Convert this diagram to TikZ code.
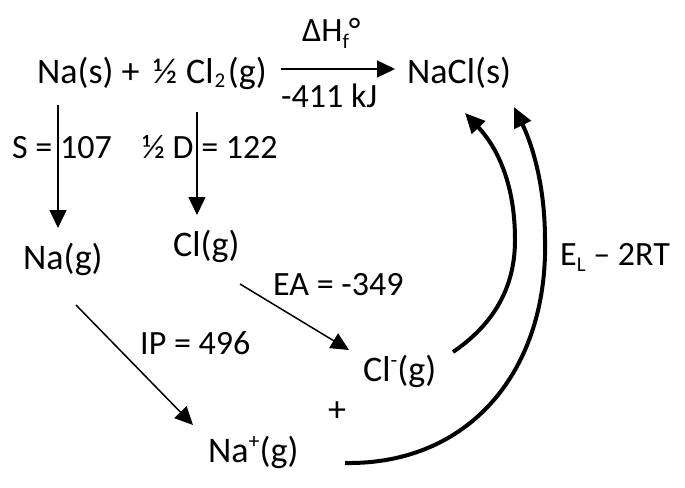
\documentclass[tikz,border=0pt]{standalone}
\usepackage{fontspec}
\setmainfont{Carlito}
\usetikzlibrary{arrows.meta}
\newcommand{\lowr}[2][-4pt]{\raisebox{#1}{\fontsize{21}{21}\selectfont #2}}
\newcommand{\highr}[1]{\raisebox{0.38em}{\fontsize{22}{22}\selectfont #1}}
\begin{document}
\begin{tikzpicture}[x=1pt,y=-1pt,
  txt/.style={inner sep=0pt, anchor=base west, font=\fontsize{34}{40}\selectfont},
  spc/.style={txt, font=\fontsize{36}{42}\selectfont},
  thinarrow/.style={line width=1.5pt, -{Triangle[length=18pt,width=17pt]}},
  bigarrow/.style={line width=4pt, -{Triangle[length=20pt,width=18pt]}}]
\fill[white] (0,0) rectangle (685,487);
\useasboundingbox (0,0) rectangle (685,487);
% species
\node[spc] (reac) at (37,83) {\makebox[116pt][l]{Na(s) +}\makebox[33pt][l]{½}Cl\kern1pt\lowr{2}\kern2.5pt(g)};
\node[spc] (nacl) at (407,83) {NaCl(s)};
\node[spc] (nag) at (23,269) {Na(g)};
\node[spc] (clg) at (173,256) {Cl(g)};
\node[spc] (clm) at (363,381) {Cl\highr{-}(g)};
\node[spc] (nap) at (208,462) {Na\highr{+}(g)};
\node[spc, anchor=center] (plus) at (337,412) {+};
% labels
\node[txt] (dh) at (302,42) {ΔH\lowr[-6pt]{f}°};
\node[txt] (kj) at (281,107) {-411 kJ};
\node[txt] (slab) at (12,158) {S = 107};
\node[txt] (dlab) at (142,158) {½ D = 122};
\node[txt] (ealab) at (273,295) {EA = -349};
\node[txt] (iplab) at (140,354) {IP = 496};
\node[txt] (ellab) at (560,265) {E\lowr[-6pt]{L} – 2RT};
% thin arrows
\draw[thinarrow] ([shift={(21,22)}]reac.base west) -- ([shift={(35,-41)}]nag.base west);
\draw[thinarrow] ([shift={(160,29)}]reac.base west) -- ([shift={(24,-41)}]clg.base west);
\draw[thinarrow] ([shift={(244,-14)}]reac.base west) -- ([shift={(-12,-14)}]nacl.base west);
\draw[thinarrow] ([shift={(53,36)}]nag.base west) -- ([shift={(-15,-37)}]nap.base west);
\draw[thinarrow] ([shift={(67,28)}]clg.base west) -- ([shift={(-14,-31)}]clm.base west);
% curved arrows (lattice energy)
\draw[bigarrow] ([shift={(90,-29)}]clm.base west) .. controls (500,320) and (515,280) .. (515,240)
  .. controls (515,180) and (495,145) .. ([shift={(58,30)}]nacl.base west);
\draw[bigarrow] ([shift={(137,1)}]nap.base west) .. controls (470,465) and (548,370) .. (545,240)
  .. controls (545,180) and (530,140) .. ([shift={(107,24)}]nacl.base west);
\end{tikzpicture}
\end{document}
